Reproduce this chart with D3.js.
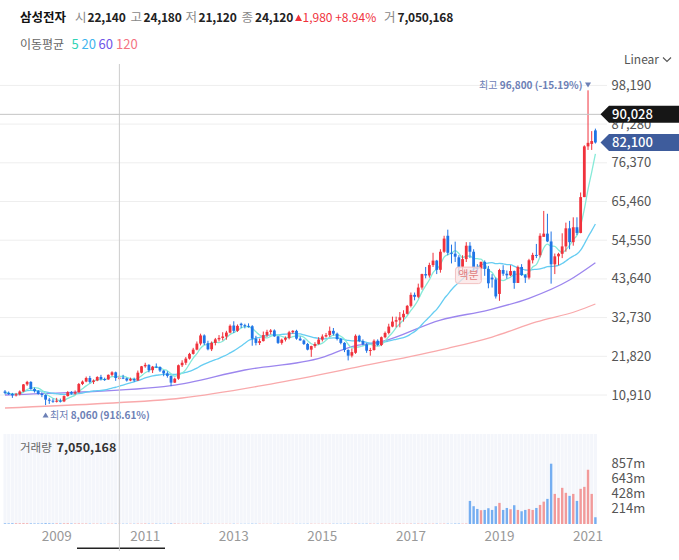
<!DOCTYPE html>
<html>
<head>
<meta charset="utf-8">
<script src="https://cdn.jsdelivr.net/npm/d3@7"></script>
<style>
  body { margin: 0; background: #fff; }
  svg { display: block; font-family: "Noto Sans CJK KR", "Noto Sans", sans-serif; }
</style>
</head>
<body>
<div id="chart"></div>
<script>
// monthly candles, [open, high, low, close], split-adjusted won
const startMonth = "2007-11";
const ohlc2007 = [[11900, 12300, 11100, 11500], [11500, 11900, 10900, 11200]];
const ohlc2008 = [
  [11200, 11500, 10100, 10800], [10800, 11500, 10500, 11100], [11100, 12200, 10800, 11900], [11900, 14000, 11800, 13900],
  [13900, 14900, 13500, 14600], [14600, 14800, 12400, 12600], [12600, 13000, 11600, 12000], [12000, 12300, 11000, 11200],
  [11200, 11700, 10300, 10900], [10900, 11100, 8060, 9600], [9600, 10100, 8400, 9300], [9300, 9900, 8700, 9020]
];
const ohlc2009 = [
  [9000, 10100, 8800, 9300], [9300, 9900, 8800, 9100], [9100, 10800, 8900, 10600], [10600, 12000, 10500, 11700],
  [11700, 12000, 11000, 11300], [11300, 12200, 11000, 11700], [11700, 14300, 11600, 14000], [14000, 15000, 13700, 14700],
  [14700, 16100, 14500, 15700], [15700, 16300, 14200, 14600], [14600, 15300, 14000, 15000], [15000, 16200, 14800, 15980]
];
const ohlc2010 = [
  [16000, 16600, 15000, 15400], [15400, 15800, 14900, 15300], [15300, 16700, 15200, 16600], [16600, 17600, 16200, 17300],
  [17300, 17500, 14900, 15700], [15700, 16600, 15200, 15800], [15800, 16600, 15400, 15600], [15600, 15800, 14700, 15000],
  [15000, 15800, 14800, 15400], [15400, 15800, 14600, 15000], [15000, 17800, 14900, 17200], [17200, 19100, 17000, 19000]
];
const ohlc2011 = [
  [19000, 20000, 18600, 19400], [19400, 19600, 17300, 17900], [17900, 19100, 17100, 18900], [18900, 19800, 18500, 18800],
  [18800, 19000, 17400, 17800], [17800, 17900, 16200, 17000], [17000, 17600, 15800, 16300], [16300, 16400, 13400, 14400],
  [14400, 15800, 14300, 15500], [15500, 19500, 15200, 19300], [19300, 20700, 18800, 20000], [20000, 21600, 19400, 21160]
];
const ohlc2012 = [
  [21160, 22800, 20900, 22500], [22500, 24200, 22300, 23700], [23700, 26000, 23500, 25400], [25400, 28200, 24900, 27700],
  [27700, 28000, 25000, 25500], [25500, 26200, 23500, 23800], [23800, 26000, 23300, 25600], [25600, 27000, 24900, 26600],
  [26600, 27800, 26000, 27000], [27000, 28600, 26300, 27400], [27400, 29000, 26500, 28500], [28500, 30800, 28300, 30420]
];
const ohlc2013 = [
  [30500, 31700, 28400, 29000], [29000, 30800, 28700, 30400], [31000, 31300, 29800, 30600], [30600, 31000, 29700, 30400],
  [30400, 31100, 29900, 30300], [30300, 30600, 24800, 26800], [26800, 27600, 24900, 25600], [25600, 26800, 25000, 26100],
  [26100, 28800, 26000, 27800], [27800, 29300, 27300, 28700], [28700, 29500, 28000, 29100], [29100, 29400, 27300, 27440]
];
const ohlc2014 = [
  [27440, 27500, 25300, 25600], [25600, 26800, 25100, 26500], [26500, 27400, 26000, 27000], [27000, 29000, 26600, 28600],
  [28600, 29200, 28200, 29000], [29000, 29300, 26500, 26800], [26800, 27400, 26200, 26300], [26300, 26600, 25000, 25300],
  [25300, 25600, 23500, 23700], [23700, 24800, 21660, 24700], [24700, 25800, 24200, 25300], [25300, 27200, 25100, 26540]
];
const ohlc2015 = [
  [26540, 28000, 26000, 27400], [27400, 28400, 27100, 27800], [27800, 30200, 27300, 29000], [29000, 29800, 27700, 28200],
  [28200, 28500, 26300, 26700], [26700, 27000, 25200, 25600], [25600, 25800, 23000, 23600], [23600, 23800, 20660, 22000],
  [22000, 24000, 21500, 23000], [22800, 28000, 22500, 27600], [27600, 27900, 25800, 26100], [26100, 26600, 24900, 25200]
];
const ohlc2016 = [
  [25200, 25500, 22800, 23400], [23400, 24200, 22000, 23600], [23600, 26600, 23400, 26200], [26200, 26600, 24700, 25000],
  [25000, 27400, 24700, 27200], [27200, 28800, 26900, 28400], [28400, 31000, 28000, 30200], [30200, 33000, 30000, 31600],
  [31600, 33000, 30000, 32000], [32000, 34300, 30000, 32800], [32800, 34800, 31600, 33800], [33800, 36300, 33600, 36040]
];
const ohlc2017 = [
  [36040, 39800, 35600, 39140], [39140, 39800, 37600, 38600], [38600, 42300, 38200, 41200], [41200, 45100, 40600, 45000],
  [45000, 47000, 43800, 44600], [44600, 48200, 44000, 47540], [47540, 51000, 47000, 48800], [48800, 49000, 45000, 46200],
  [46200, 52000, 45400, 51300], [51300, 55800, 51000, 55000], [55800, 57520, 50300, 51000], [51000, 53300, 48000, 50960]
];
const ohlc2018 = [
  [50760, 54140, 48400, 49900], [49720, 50320, 44500, 47060], [47060, 50300, 46000, 49220], [49220, 54000, 48400, 53000],
  [53000, 54000, 49500, 51300], [51300, 52000, 45600, 46650], [46650, 47800, 45400, 46500], [46500, 48500, 43300, 48450],
  [48450, 48850, 44500, 46450], [46450, 47300, 41000, 42400], [44000, 45000, 41200, 43500], [43500, 44000, 38100, 38700]
];
const ohlc2019 = [
  [39400, 46500, 37450, 46150], [46150, 47500, 44500, 45100], [45100, 46000, 43700, 44650], [44650, 47500, 44400, 45850],
  [45850, 46000, 40850, 42500], [42500, 47400, 42500, 47000], [47000, 47800, 44500, 44700], [44700, 45000, 42500, 44000],
  [44000, 49300, 43500, 48900], [48900, 51000, 48000, 50400], [50400, 53500, 49500, 50300], [50300, 56500, 49700, 55800]
];
const ohlc2020 = [
  [55500, 62800, 55500, 56400], [56400, 62000, 54000, 54200], [54200, 57000, 42300, 47750], [47750, 50800, 45000, 50000],
  [50000, 51000, 47500, 50700], [50700, 56500, 49500, 52800], [52800, 59500, 51300, 57900], [57900, 60000, 52000, 54000],
  [54000, 61000, 53000, 58200], [58200, 61000, 56000, 56600], [56600, 68000, 56500, 66700], [66700, 81300, 66700, 81000]
];
const ohlc2021 = [[81000, 96800, 80000, 82000], [81700, 85300, 80000, 82500], [85500, 86000, 81800, 82100]];

// monthly volume, millions of shares (pre-split months are tiny)
const volumes = [
  9, 8,
  10, 9, 9, 10, 9, 8, 7, 7, 8, 11, 9, 7,
  8, 7, 8, 9, 7, 6, 7, 6, 6, 5, 5, 5,
  5, 4, 5, 5, 6, 4, 4, 4, 4, 4, 5, 5,
  6, 5, 5, 5, 4, 4, 4, 7, 6, 5, 4, 4,
  4, 4, 4, 5, 5, 4, 4, 3, 3, 3, 3, 3,
  4, 3, 3, 3, 3, 5, 4, 4, 3, 3, 3, 3,
  4, 3, 3, 3, 3, 3, 3, 3, 4, 4, 3, 3,
  4, 3, 4, 4, 4, 4, 5, 5, 4, 6, 4, 4,
  5, 5, 4, 4, 5, 4, 4, 4, 5, 6, 4, 4,
  5, 4, 5, 5, 5, 4, 5, 5, 4, 5, 5, 4,
  6, 6, 5, 6, 328, 253, 214, 196, 200, 224, 200, 253,
  300, 200, 228, 210, 267, 200, 181, 200, 214, 200, 228, 271,
  318, 357, 857, 428, 371, 514, 443, 400, 428, 328, 500, 528,
  771, 428, 96
];

// long moving averages
const ma60Points = [
  ["2007-11", 10910], ["2009-04", 11560], ["2011-08", 13530], ["2013-04", 17960], ["2015-01", 21500],
  ["2015-09", 24530], ["2016-05", 25940], ["2017-09", 32050], ["2018-10", 34870], ["2019-09", 38180],
  ["2020-08", 43330], ["2021-03", 48200]
];
const ma120Points = [
  ["2007-11", 7250], ["2009-11", 8370], ["2011-11", 10060], ["2013-11", 14000], ["2015-11", 18900],
  ["2017-11", 24070], ["2018-11", 27260], ["2019-11", 31500], ["2020-10", 34590], ["2021-03", 36560]
];

const priceTicks = [10910, 21820, 32730, 43640, 54550, 65460, 76370, 87280, 98190];
const volumeTicks = [214, 428, 643, 857];
const yearLabels = ["2009", "2011", "2013", "2015", "2017", "2019", "2021"];
const headerLabels = ["시", "고", "저", "종"];
const headerValues = ["22,140", "24,180", "21,120", "24,120"];
const maPeriods = [5, 20, 60, 120];
const maColors = ["#2fd3b5", "#3fb4ee", "#6f55e8", "#f47382"];
const maLineColors = ["#86ead8", "#66cdf2", "#9c86ee", "#f9a9ab"];

const width = 679, height = 560;
const upColor = "#f0323c", downColor = "#1f74e6";
const upVol = "#f29a9a", downVol = "#75aef1";
const noteColor = "#6c80b6";

const parseM = d3.timeParse("%Y-%m");
const fmtM = d3.timeFormat("%Y-%m");
const candles = [].concat(ohlc2007, ohlc2008, ohlc2009, ohlc2010, ohlc2011, ohlc2012, ohlc2013,
  ohlc2014, ohlc2015, ohlc2016, ohlc2017, ohlc2018, ohlc2019, ohlc2020, ohlc2021);
const start = parseM(startMonth);
const months = d3.timeMonth.range(start, d3.timeMonth.offset(start, candles.length)).map(fmtM);
const rows = candles.map((d, i) => ({ m: months[i], o: d[0], h: d[1], l: d[2], c: d[3], v: volumes[i] }));
const closes = rows.map((d) => d.c);
const movingAvg = (n) => closes.map((_, i) => [months[i], d3.mean(closes.slice(Math.max(0, i - n + 1), i + 1))]);

const step = 3.69;
const x = d3.scaleBand().domain(months).range([5 - step / 2, 5 + (months.length - 1) * step + step / 2]);
const cx = (m) => x(m) + x.bandwidth() / 2;
const y = d3.scaleLinear().domain([0, 98190]).range([433.7, 85.4]);
const yVol = d3.scaleLinear().domain([0, 857]).range([524, 463.7]);

const svg = d3.select("#chart").append("svg").attr("width", width).attr("height", height);
svg.append("rect").attr("width", width).attr("height", height).attr("fill", "#fff");

// header, pieces placed where the reference has them
const header = svg.append("g").attr("transform", "translate(0,21.5)");
header.append("text").attr("x", 20).attr("font-size", 12.5).attr("font-weight", 700).attr("fill", "#111").text("삼성전자");
const labelX = [75, 130.5, 185.5, 241.5];
const valueX = [87.5, 143.5, 198.5, 255];
headerLabels.forEach((k, i) => {
  header.append("text").attr("x", labelX[i]).attr("font-size", 12.5).attr("fill", "#888").text(k);
  header.append("text").attr("x", valueX[i]).attr("font-size", 12).attr("letter-spacing", -0.2)
    .attr("font-weight", 700).attr("fill", "#222").text(headerValues[i]);
});
header.append("path").attr("d", "M295,-0.5 L302,-0.5 L298.5,-7 Z").attr("fill", upColor);
header.append("text").attr("x", 302.5).attr("font-size", 12).attr("fill", upColor).text("1,980 +8.94%");
header.append("text").attr("x", 384).attr("font-size", 12.5).attr("fill", "#888").text("거");
header.append("text").attr("x", 397.5).attr("font-size", 12).attr("letter-spacing", -0.2)
  .attr("font-weight", 700).attr("fill", "#222").text("7,050,168");

const legend = svg.append("g").attr("transform", "translate(0,49)");
legend.append("text").attr("x", 20).attr("font-size", 12).attr("fill", "#666").text("이동평균");
const legendX = [71.5, 81.5, 98.5, 116];
maPeriods.forEach((p, i) => legend.append("text").attr("x", legendX[i]).attr("font-size", 13).attr("fill", maColors[i]).text(p));

svg.append("text").attr("x", 624).attr("y", 63.5).attr("font-size", 12).attr("fill", "#555").text("Linear");
svg.append("path").attr("d", "M663,57.5 L667,61.5 L671,57.5").attr("fill", "none").attr("stroke", "#555").attr("stroke-width", 1.1);

// grid + price axis
svg.append("g").selectAll("line").data(priceTicks).join("line")
  .attr("x1", 0).attr("x2", 607).attr("y1", (d) => y(d)).attr("y2", (d) => y(d))
  .attr("stroke", "#eeeeee");
svg.append("g").attr("font-size", 13).attr("fill", "#555").selectAll("text").data(priceTicks).join("text")
  .attr("x", 611.5).attr("y", (d) => y(d)).attr("dy", "0.35em").text(d3.format(","));

// volume panel
const volG = svg.append("g");
volG.selectAll("rect").data(months).join("rect")
  .attr("x", (m) => x(m) + 0.3).attr("width", x.bandwidth() - 0.6)
  .attr("y", 434).attr("height", 89.5).attr("fill", "#f4f6fb");
volG.append("g").selectAll("rect").data(rows).join("rect")
  .attr("x", (d) => cx(d.m) - 1.2).attr("width", 2.4)
  .attr("y", (d) => yVol(d.v)).attr("height", (d) => yVol(0) - yVol(d.v))
  .attr("fill", (d) => (d.c >= d.o ? upVol : downVol));
svg.append("g").attr("font-size", 13).attr("fill", "#555").selectAll("text").data(volumeTicks).join("text")
  .attr("x", 611.5).attr("y", (d) => yVol(d)).attr("dy", "0.35em").text((d) => d + "m");
svg.append("text").attr("x", 20).attr("y", 451.5).attr("font-size", 11.5).attr("fill", "#666").text("거래량");
svg.append("text").attr("x", 56.5).attr("y", 451.5).attr("font-size", 12.5).attr("font-weight", 700).attr("fill", "#333").text("7,050,168");

// x axis labels
svg.append("g").attr("font-size", 13.5).attr("fill", "#999").attr("text-anchor", "middle")
  .selectAll("text").data(yearLabels).join("text")
  .attr("x", (yr) => cx(yr + "-01")).attr("y", 541).text((d) => d);
svg.append("line").attr("x1", 77).attr("x2", 165).attr("y1", 548.3).attr("y2", 548.3)
  .attr("stroke", "#222").attr("stroke-width", 1.5);

// price plot
svg.append("clipPath").attr("id", "plot-clip").append("rect").attr("x", 0).attr("y", 66).attr("width", 600).attr("height", 368);
const plot = svg.append("g").attr("clip-path", "url(#plot-clip)");

const lineSmooth = d3.line().x((d) => cx(d[0])).y((d) => y(d[1])).curve(d3.curveMonotoneX);
const lineSeries = [movingAvg(5), movingAvg(20), ma60Points, ma120Points];
[3, 2, 1, 0].forEach((k) => {
  plot.append("path").datum(lineSeries[k]).attr("d", lineSmooth)
    .attr("fill", "none").attr("stroke", maLineColors[k]).attr("stroke-width", 1.3);
});

const candleG = plot.append("g");
candleG.selectAll("line").data(rows).join("line")
  .attr("x1", (d) => cx(d.m)).attr("x2", (d) => cx(d.m))
  .attr("y1", (d) => y(d.h)).attr("y2", (d) => y(d.l))
  .attr("stroke", (d) => (d.c >= d.o ? upColor : downColor)).attr("stroke-width", 1);
candleG.selectAll("rect").data(rows).join("rect")
  .attr("x", (d) => cx(d.m) - 1.4).attr("width", 2.8)
  .attr("y", (d) => y(Math.max(d.o, d.c)))
  .attr("height", (d) => Math.max(1, Math.abs(y(d.o) - y(d.c))))
  .attr("fill", (d) => (d.c >= d.o ? upColor : downColor));

// split marker
const splitRow = rows.find((d) => d.m === "2018-05");
const sx = cx(splitRow.m), sy = y(splitRow.l) + 9;
plot.append("rect").attr("x", sx - 14.5).attr("y", sy).attr("width", 26).attr("height", 16.5).attr("rx", 3)
  .attr("fill", "#fbe4e4").attr("fill-opacity", 0.75).attr("stroke", "#f2c2c2");
plot.append("text").attr("x", sx - 1.5).attr("y", sy + 8.3).attr("dy", "0.35em").attr("text-anchor", "middle")
  .attr("font-size", 11).attr("fill", "#e07f80").text("액분");

// high / low notes
const hiRow = rows.reduce((a, b) => (b.h > a.h ? b : a));
const loRow = rows.reduce((a, b) => (b.l < a.l ? b : a));
const hx = cx(hiRow.m), lx = cx(loRow.m);
svg.append("path").attr("d", `M${hx - 3},82.5 L${hx + 3},82.5 L${hx},87.5 Z`).attr("fill", noteColor);
const hiText = svg.append("text").attr("x", hx - 5.5).attr("y", 85).attr("dy", "0.35em").attr("text-anchor", "end")
  .attr("font-size", 10).attr("fill", noteColor);
hiText.append("tspan").text("최고 ");
hiText.append("tspan").attr("font-weight", 700).text("96,800 (-15.19%)");
svg.append("path").attr("d", `M${lx - 3},417.5 L${lx + 3},417.5 L${lx},412.5 Z`).attr("fill", noteColor);
const loText = svg.append("text").attr("x", lx + 4.5).attr("y", 415).attr("dy", "0.35em")
  .attr("font-size", 10).attr("fill", noteColor);
loText.append("tspan").text("최저 ");
loText.append("tspan").attr("font-weight", 700).text("8,060 (918.61%)");

// crosshair
const crossX = cx("2010-06");
svg.append("line").attr("x1", crossX).attr("x2", crossX).attr("y1", 64).attr("y2", 551).attr("stroke", "#cccccc");
svg.append("line").attr("x1", 0).attr("x2", 601).attr("y1", y(90028)).attr("y2", y(90028)).attr("stroke", "#c4c4c4");

// price tags
const tag = (v, label, fill) => {
  const yc = y(v);
  svg.append("path")
    .attr("d", `M600.5,${yc} L609,${yc - 8.5} L679,${yc - 8.5} L679,${yc + 8.5} L609,${yc + 8.5} Z`)
    .attr("fill", fill);
  svg.append("text").attr("x", 612).attr("y", yc).attr("dy", "0.35em").attr("font-size", 13)
    .attr("font-weight", 500).attr("fill", "#fff").text(label);
};
tag(90028, "90,028", "#161616");
tag(82100, "82,100", "#3e5c9c");
</script>
</body>
</html>
